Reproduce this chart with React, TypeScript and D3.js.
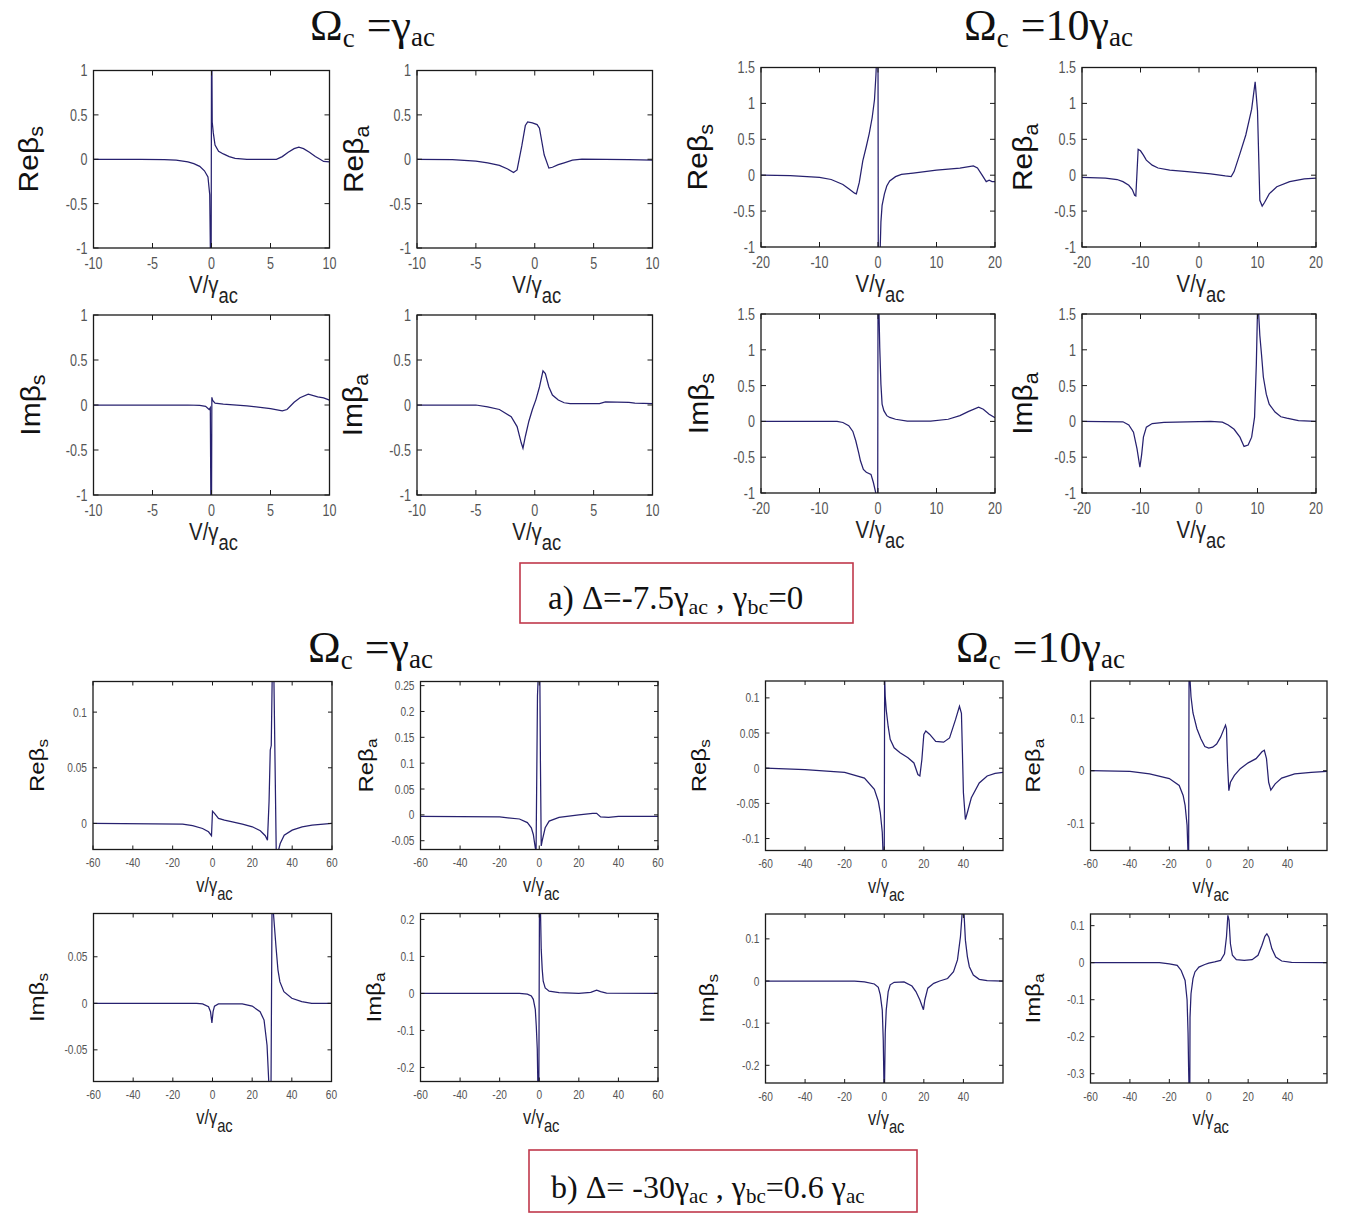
import * as d3 from 'd3';
import React from 'react';

type Pt = [number, number];

// tick sets
const ticks10 = [-10, -5, 0, 5, 10];
const ticks20 = [-20, -10, 0, 10, 20];
const ticks60 = [-60, -40, -20, 0, 20, 40, 60];
const ticks60cut = [-60, -40, -20, 0, 20, 40];
const yUnit = [-1, -0.5, 0, 0.5, 1];
const yUnit15 = [-1, -0.5, 0, 0.5, 1, 1.5];

// ---- a) Delta=-7.5, gamma_bc=0 ----
const aReS_g1: Pt[] = [[-10,0],[-6,0],[-4,-0.005],[-3,-0.01],[-2,-0.03],[-1.5,-0.05],[-1,-0.08],[-0.6,-0.13],[-0.3,-0.2],[-0.15,-0.4],[-0.08,-1.2],[-0.03,-1.2],[0,1.2],[0.03,1.2],[0.06,0.42],[0.15,0.3],[0.3,0.16],[0.6,0.09],[1,0.06],[1.5,0.03],[2,0.01],[3,0],[5.5,0],[6,0.03],[6.5,0.08],[7,0.12],[7.4,0.135],[7.8,0.12],[8.3,0.08],[8.8,0.03],[9.2,0],[9.5,-0.025],[10,-0.03]];
const aReA_g1: Pt[] = [[-10,0],[-7,-0.005],[-5,-0.02],[-4,-0.04],[-3,-0.07],[-2.3,-0.11],[-1.8,-0.15],[-1.5,-0.12],[-1.1,0.15],[-0.8,0.38],[-0.6,0.42],[-0.2,0.41],[0.2,0.39],[0.4,0.35],[0.8,0.05],[1.2,-0.1],[1.5,-0.09],[2,-0.06],[2.5,-0.04],[3.2,-0.01],[4,0],[8,-0.005],[10,-0.01]];
const aReS_g10: Pt[] = [[-20,0],[-15,-0.005],[-10,-0.03],[-8,-0.06],[-6,-0.13],[-5,-0.19],[-4,-0.25],[-3.7,-0.26],[-3.2,-0.1],[-2.6,0.2],[-2,0.4],[-1.5,0.58],[-1,0.8],[-0.6,1.05],[-0.35,1.4],[-0.2,1.7],[0,1.7],[0.05,-1.1],[0.35,-1.1],[0.5,-0.65],[0.7,-0.42],[1.1,-0.26],[1.5,-0.15],[2,-0.08],[3,-0.02],[4,0.01],[6,0.03],[10,0.07],[14,0.1],[16.3,0.13],[17,0.1],[17.8,0],[18.5,-0.09],[19,-0.07],[19.5,-0.09],[20,-0.09]];
const aReA_g10: Pt[] = [[-20,-0.03],[-16,-0.04],[-14,-0.06],[-13,-0.09],[-12,-0.14],[-11.4,-0.2],[-11,-0.28],[-10.8,-0.29],[-10.4,0.36],[-10,0.34],[-9.5,0.28],[-9,0.21],[-8,0.14],[-7,0.1],[-5,0.07],[-2,0.05],[2,0.02],[4.5,-0.01],[5.5,-0.02],[6,0.05],[7,0.3],[8,0.56],[9,0.92],[9.6,1.3],[10,0.9],[10.4,-0.35],[10.8,-0.43],[11.2,-0.38],[12,-0.26],[13.3,-0.16],[15.5,-0.09],[18,-0.05],[20,-0.04]];
const aImS_g1: Pt[] = [[-10,0],[-2,0],[-1,-0.005],[-0.5,-0.015],[-0.2,-0.05],[-0.1,-0.03],[-0.05,-1.2],[0,-1.2],[0.03,0.085],[0.1,0.05],[0.3,0.02],[1,0.01],[3,-0.01],[5,-0.04],[6,-0.065],[6.4,-0.05],[7,0.03],[7.5,0.08],[8.2,0.12],[9,0.09],[9.5,0.08],[10,0.055]];
const aImA_g1: Pt[] = [[-10,0],[-5,0],[-4,-0.02],[-3,-0.05],[-2,-0.13],[-1.5,-0.24],[-1.15,-0.42],[-1,-0.48],[-0.8,-0.35],[-0.5,-0.18],[-0.2,-0.05],[0.1,0.06],[0.4,0.2],[0.7,0.38],[0.9,0.35],[1.2,0.2],[1.5,0.11],[2,0.055],[2.5,0.025],[3,0.015],[5.5,0.015],[6,0.035],[8,0.03],[8.5,0.02],[10,0.015]];
const aImS_g10: Pt[] = [[-20,0],[-7,0],[-6,-0.015],[-5,-0.06],[-4.3,-0.14],[-3.8,-0.27],[-3.3,-0.44],[-3,-0.55],[-2.5,-0.67],[-2,-0.71],[-1.2,-0.74],[-0.8,-0.85],[-0.4,-0.99],[-0.2,-1.1],[-0.05,-1.1],[0,1.6],[0.15,1.6],[0.3,1.03],[0.5,0.52],[0.7,0.24],[1,0.15],[1.5,0.08],[2,0.055],[3,0.03],[5,0.005],[9,0.005],[12,0.03],[14,0.08],[15.5,0.14],[17.2,0.2],[18,0.17],[19,0.1],[20,0.05]];
const aImA_g10: Pt[] = [[-20,0],[-13,-0.005],[-12,-0.05],[-11.2,-0.15],[-10.6,-0.38],[-10.1,-0.64],[-9.8,-0.46],[-9.5,-0.22],[-9,-0.08],[-8,-0.03],[-6,-0.012],[2,0],[4,-0.01],[5,-0.05],[6,-0.11],[7,-0.22],[7.7,-0.35],[8.4,-0.33],[9,-0.22],[9.5,0.06],[9.8,0.8],[10,1.55],[10.2,1.5],[10.4,1.2],[10.7,0.92],[11,0.62],[11.5,0.38],[12,0.24],[13,0.13],[14,0.065],[15,0.045],[17,0.01],[20,0]];

// ---- b) Delta=-30, gamma_bc=0.6 ----
const bReS_g1: Pt[] = [[-60,0],[-15,-0.0006],[-10,-0.002],[-5,-0.0045],[-2,-0.0075],[-0.5,-0.011],[0,0.011],[1,0.009],[3,0.0045],[6,0.003],[10,0.0015],[15,-0.0006],[20,-0.003],[24,-0.0066],[26.5,-0.011],[27.6,-0.015],[28.4,0.02],[29,0.066],[29.5,0.07],[30,0.135],[30.8,0.135],[32,-0.025],[33,-0.025],[34,-0.018],[36,-0.0105],[40,-0.006],[45,-0.003],[50,-0.0015],[60,0]];
const bReA_g1: Pt[] = [[-60,-0.003],[-20,-0.004],[-10,-0.008],[-6,-0.015],[-4,-0.025],[-3,-0.038],[-2,-0.064],[-1.6,-0.07],[-1.2,0.1],[-0.9,0.23],[-0.5,0.27],[0.3,0.27],[0.6,0.1],[1,-0.06],[1.5,-0.05],[3,-0.025],[5,-0.012],[10,-0.005],[20,0],[27,0.003],[29,0.003],[31,-0.004],[35,-0.005],[40,-0.003],[60,-0.003]];
const bReS_g10: Pt[] = [[-60,0],[-40,-0.002],[-20,-0.006],[-10,-0.014],[-5,-0.03],[-3,-0.047],[-2,-0.063],[-1,-0.091],[-0.5,-0.13],[0,-0.13],[0.2,0.13],[0.5,0.102],[1,0.083],[2,0.059],[3,0.041],[5,0.029],[8,0.022],[12,0.015],[15,0.0075],[17,-0.009],[18,-0.011],[19,0.012],[20,0.048],[21,0.053],[23,0.048],[26,0.038],[30,0.037],[33,0.043],[36,0.069],[38,0.088],[39,0.078],[39.5,0.022],[40,-0.035],[41,-0.073],[42,-0.063],[44,-0.042],[48,-0.021],[52,-0.011],[56,-0.0075],[60,-0.006]];
const bReA_g10: Pt[] = [[-60,0],[-40,-0.001],[-30,-0.006],[-20,-0.015],[-15,-0.028],[-13,-0.047],[-12,-0.066],[-11,-0.104],[-10.5,-0.16],[-10.2,-0.16],[-10,0.18],[-9.6,0.18],[-9,0.141],[-8,0.11],[-6,0.08],[-4,0.061],[-2,0.046],[0,0.043],[2,0.045],[4,0.051],[6,0.064],[8.5,0.087],[9,0.08],[9.5,0.017],[10.2,-0.038],[11,-0.022],[13,-0.009],[16,0.004],[20,0.015],[24,0.023],[27,0.036],[28.2,0.039],[29.3,0.023],[30.4,-0.022],[31.5,-0.037],[33.7,-0.025],[37,-0.014],[43.6,-0.006],[52,-0.003],[60,-0.001]];
const bImS_g1: Pt[] = [[-60,0],[-8,0],[-5,-0.0007],[-2,-0.0036],[-1,-0.009],[-0.3,-0.021],[0.3,-0.009],[1,-0.003],[3,-0.0007],[15,-0.0007],[20,-0.003],[24,-0.009],[26,-0.018],[27.5,-0.045],[28.5,-0.09],[29.5,-0.09],[30,0.1],[30.6,0.1],[31,0.089],[32,0.061],[33,0.036],[34,0.023],[36,0.0125],[40,0.0054],[45,0.0018],[50,0],[60,0]];
const bImA_g1: Pt[] = [[-60,0],[-10,0],[-6,-0.002],[-4,-0.007],[-3,-0.016],[-2,-0.043],[-1.5,-0.088],[-1,-0.15],[-0.7,-0.25],[-0.2,-0.25],[0.1,0.23],[0.6,0.23],[1,0.119],[1.5,0.065],[2,0.033],[3,0.015],[5,0.006],[10,0.002],[20,0],[26,0.003],[29,0.009],[31,0.005],[34,0.001],[60,0]];
const bImS_g10: Pt[] = [[-60,0],[-15,0],[-10,-0.002],[-5,-0.007],[-3,-0.015],[-2,-0.033],[-1,-0.069],[-0.5,-0.14],[-0.1,-0.26],[0.1,-0.26],[0.5,-0.124],[1,-0.069],[2,-0.025],[3,-0.009],[5,-0.003],[10,-0.002],[14,-0.012],[16,-0.025],[18,-0.045],[19.8,-0.068],[20.5,-0.045],[22,-0.017],[25,-0.0055],[28,0],[32,0.006],[35,0.022],[37,0.05],[38.5,0.105],[39.5,0.17],[40.2,0.17],[41,0.097],[42,0.058],[43,0.034],[45,0.014],[48,0.004],[52,0.001],[60,0]];
const bImA_g10: Pt[] = [[-60,0],[-25,0],[-20,-0.003],[-16,-0.007],[-14,-0.021],[-12,-0.048],[-11,-0.1],[-10.5,-0.19],[-10.2,-0.29],[-10,-0.34],[-9.6,-0.34],[-9.5,-0.147],[-9,-0.084],[-8,-0.043],[-7,-0.025],[-5,-0.012],[-2,-0.005],[0,-0.001],[3,0.002],[6,0.006],[8,0.024],[9,0.07],[9.7,0.128],[10.3,0.115],[11,0.051],[12,0.02],[14,0.008],[18,0.006],[22,0.008],[25,0.02],[27,0.047],[28.5,0.071],[29.5,0.078],[30.5,0.069],[32,0.038],[34,0.015],[37,0.0045],[42,0.001],[60,0]];

const styles: any = {
  a: { tick: 17, tickSx: 0.74, tickLen: 5, xTickDy: 21, yLab: 30, yLabSx: 0.9, xLab: 24, xLabSx: 0.85, xLabDy: 45, xLabText: 'V/γ' },
  b: { tick: 13, tickSx: 0.78, tickLen: 4, xTickDy: 17.5, yLab: 24, yLabSx: 0.82, xLab: 20, xLabSx: 0.82, xLabDy: 42, xLabText: 'v/γ' },
};

const panels = [
  { sec: 'a', data: aReS_g1, box: [93.5, 70.5, 329.5, 248], xd: [-10, 10], yd: [-1, 1], xt: ticks10, yt: yUnit, q: 'Re', s: 's', lab: -56 },
  { sec: 'a', data: aReA_g1, box: [417, 70.5, 652.5, 248], xd: [-10, 10], yd: [-1, 1], xt: ticks10, yt: yUnit, q: 'Re', s: 'a', lab: -54 },
  { sec: 'a', data: aReS_g10, box: [761, 67.5, 995, 247], xd: [-20, 20], yd: [-1, 1.5], xt: ticks20, yt: yUnit15, q: 'Re', s: 's', lab: -54 },
  { sec: 'a', data: aReA_g10, box: [1082, 67.5, 1316, 247], xd: [-20, 20], yd: [-1, 1.5], xt: ticks20, yt: yUnit15, q: 'Re', s: 'a', lab: -50 },
  { sec: 'a', data: aImS_g1, box: [93.5, 315, 329.5, 495], xd: [-10, 10], yd: [-1, 1], xt: ticks10, yt: yUnit, q: 'Im', s: 's', lab: -54 },
  { sec: 'a', data: aImA_g1, box: [417, 315, 652.5, 495], xd: [-10, 10], yd: [-1, 1], xt: ticks10, yt: yUnit, q: 'Im', s: 'a', lab: -55 },
  { sec: 'a', data: aImS_g10, box: [761, 314, 995, 493], xd: [-20, 20], yd: [-1, 1.5], xt: ticks20, yt: yUnit15, q: 'Im', s: 's', lab: -53 },
  { sec: 'a', data: aImA_g10, box: [1082, 314, 1316, 493], xd: [-20, 20], yd: [-1, 1.5], xt: ticks20, yt: yUnit15, q: 'Im', s: 'a', lab: -50 },
  { sec: 'b', data: bReS_g1, box: [93, 681.5, 332, 849.5], xd: [-60, 60], yd: [-0.0234, 0.1275], xt: ticks60, yt: [0, 0.05, 0.1], q: 'Re', s: 's', lab: -49 },
  { sec: 'b', data: bReA_g1, box: [420.5, 681.5, 658, 849.5], xd: [-60, 60], yd: [-0.067, 0.258], xt: ticks60, yt: [-0.05, 0, 0.05, 0.1, 0.15, 0.2, 0.25], q: 'Re', s: 'a', lab: -48 },
  { sec: 'b', data: bReS_g10, box: [765.5, 681, 1003, 850.5], xd: [-60, 60], yd: [-0.117, 0.124], xt: ticks60cut, yt: [-0.1, -0.05, 0, 0.05, 0.1], q: 'Re', s: 's', lab: -60 },
  { sec: 'b', data: bReA_g10, box: [1090.5, 681, 1327, 850.5], xd: [-60, 60], yd: [-0.152, 0.171], xt: ticks60cut, yt: [-0.1, 0, 0.1], q: 'Re', s: 'a', lab: -51 },
  { sec: 'b', data: bImS_g1, box: [93.5, 913.5, 331.5, 1081.5], xd: [-60, 60], yd: [-0.084, 0.0965], xt: ticks60, yt: [-0.05, 0, 0.05], q: 'Im', s: 's', lab: -50 },
  { sec: 'b', data: bImA_g1, box: [420.5, 913.5, 658, 1081.5], xd: [-60, 60], yd: [-0.238, 0.216], xt: ticks60, yt: [-0.2, -0.1, 0, 0.1, 0.2], q: 'Im', s: 'a', lab: -40 },
  { sec: 'b', data: bImS_g10, box: [765.5, 914, 1003, 1083], xd: [-60, 60], yd: [-0.242, 0.159], xt: ticks60cut, yt: [-0.2, -0.1, 0, 0.1], q: 'Im', s: 's', lab: -52 },
  { sec: 'b', data: bImA_g10, box: [1090.5, 914, 1327, 1083], xd: [-60, 60], yd: [-0.325, 0.1315], xt: ticks60cut, yt: [-0.3, -0.2, -0.1, 0, 0.1], q: 'Im', s: 'a', lab: -51 },
];

const SANS = "'Liberation Sans', Arial, sans-serif";
const SERIF = "'Liberation Serif', 'Times New Roman', serif";
const LINE = '#27216f';

function Panel({ p, i }: any) {
  const st = styles[p.sec];
  const [x0, y0, x1, y1] = p.box;
  const x = d3.scaleLinear().domain(p.xd).range([x0, x1]);
  const y = d3.scaleLinear().domain(p.yd).range([y1, y0]);
  const line = d3.line<Pt>().x(d => x(d[0])).y(d => y(d[1]));
  const cx = (x0 + x1) / 2;
  const cy = (y0 + y1) / 2;
  const lx = x0 + p.lab;
  return (
    <g>
      <clipPath id={`clip${i}`}>
        <rect x={x0} y={y0} width={x1 - x0} height={y1 - y0} />
      </clipPath>
      <path d={line(p.data) || ''} fill="none" stroke={LINE} strokeWidth={1.25} clipPath={`url(#clip${i})`} />
      <rect x={x0} y={y0} width={x1 - x0} height={y1 - y0} fill="none" stroke="#1a1a1a" strokeWidth={1.3} />
      {p.xt.map((t: number) => (
        <g key={'x' + t}>
          <line x1={x(t)} x2={x(t)} y1={y1} y2={y1 - st.tickLen} stroke="#1a1a1a" />
          <line x1={x(t)} x2={x(t)} y1={y0} y2={y0 + st.tickLen} stroke="#1a1a1a" />
          <text transform={`translate(${x(t)},${y1 + st.xTickDy}) scale(${st.tickSx},1)`} textAnchor="middle"
            fontSize={st.tick} fontFamily={SANS} fill="#555">{String(t)}</text>
        </g>
      ))}
      {p.yt.map((t: number) => (
        <g key={'y' + t}>
          <line x1={x0} x2={x0 + st.tickLen} y1={y(t)} y2={y(t)} stroke="#1a1a1a" />
          <line x1={x1} x2={x1 - st.tickLen} y1={y(t)} y2={y(t)} stroke="#1a1a1a" />
          <text transform={`translate(${x0 - 6},${y(t)}) scale(${st.tickSx},1)`} textAnchor="end" dy="0.35em"
            fontSize={st.tick} fontFamily={SANS} fill="#555">{String(t)}</text>
        </g>
      ))}
      <text transform={`translate(${lx},${cy}) scale(${st.yLabSx},1) rotate(-90)`} textAnchor="middle"
        fontSize={st.yLab} fontFamily={SANS} fill="#111">
        {p.q}β<tspan fontSize={st.yLab * 0.72} dy="0.3em">{p.s}</tspan>
      </text>
      <text transform={`translate(${cx + 2},${y1 + st.xLabDy}) scale(${st.xLabSx},1)`} textAnchor="middle"
        fontSize={st.xLab} fontFamily={SANS} fill="#222">
        {st.xLabText}<tspan fontSize={st.xLab * 0.9} dy="0.45em">ac</tspan>
      </text>
    </g>
  );
}

function Title({ x, y, mult }: { x: number; y: number; mult: string }) {
  return (
    <text x={x} y={y} fontFamily={SERIF} fontSize={44} fill="#111">
      Ω<tspan fontSize={27} dy={7}>c</tspan>
      <tspan dy={-7} dx={12}>={mult}γ</tspan>
      <tspan fontSize={27} dy={6}>ac</tspan>
    </text>
  );
}

export default function App() {
  return (
    <div style={{ position: 'absolute', left: 0, top: 0 }}>
      <svg width={1353} height={1214} style={{ display: 'block', background: '#fff' }}>
        <Title x={310} y={40} mult="" />
        <Title x={964} y={40} mult="10" />
        <Title x={308} y={662} mult="" />
        <Title x={956} y={662} mult="10" />
        {panels.map((p, i) => <Panel key={i} p={p} i={i} />)}
        <rect x={520} y={563} width={333} height={60} fill="none" stroke="#c0394b" strokeWidth={1.6} />
        <text x={548} y={609} fontFamily={SERIF} fontSize={33} fill="#111">
          a) Δ=-7.5γ<tspan fontSize={22} dy={5}>ac</tspan>
          <tspan dy={-5}> , γ</tspan><tspan fontSize={22} dy={5}>bc</tspan>
          <tspan dy={-5}>=0</tspan>
        </text>
        <rect x={529} y={1150} width={388} height={62} fill="none" stroke="#c0394b" strokeWidth={1.6} />
        <text x={551} y={1198} fontFamily={SERIF} fontSize={32} fill="#111">
          b) Δ= -30γ<tspan fontSize={21} dy={5}>ac</tspan>
          <tspan dy={-5}> , γ</tspan><tspan fontSize={21} dy={5}>bc</tspan>
          <tspan dy={-5}>=0.6 γ</tspan><tspan fontSize={21} dy={5}>ac</tspan>
        </text>
      </svg>
    </div>
  );
}
